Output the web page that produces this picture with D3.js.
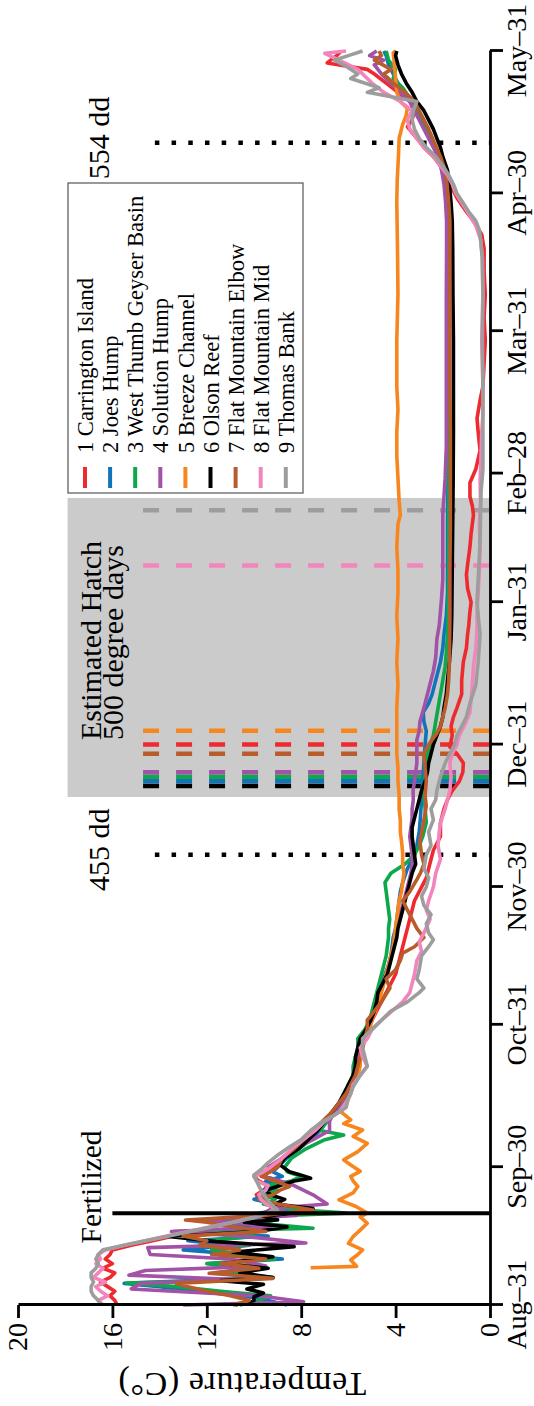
<!DOCTYPE html>
<html>
<head>
<meta charset="utf-8">
<script src="https://cdn.jsdelivr.net/npm/d3@7"></script>
<style>
  body { margin: 0; background: #fff; }
  svg { display: block; }
  text { font-family: "Liberation Serif", "Times New Roman", serif; fill: #000; }
</style>
</head>
<body>
<svg id="chart" width="534" height="1406"></svg>
<script>
// Daily water temperature at nine spawning sites, Aug 31 to May 31.
// Values are [day since Aug 31, temperature in °C].

const siteNames = [
  "1 Carrington Island", "2 Joes Hump", "3 West Thumb Geyser Basin",
  "4 Solution Hump", "5 Breeze Channel", "6 Olson Reef",
  "7 Flat Mountain Elbow", "8 Flat Mountain Mid", "9 Thomas Bank"
];
const siteColors = ["#ee2a2f", "#1174ba", "#0ca84b", "#a252a7", "#f7861f",
                    "#000000", "#b95c2b", "#f286bc", "#9d9d9d"];

const carringtonIsland = [[0,15.8],[1,15.9],[2,16.1],[3,15.9],[4,16.2],[5,16.5],[6,16.1],[7,15.9],[8,16.4],[9,16.0],[10,16.3],[11,16.1],[12,16.0],[13,15.2],[14,14.3],[15,13.4],[16,12.6],[17,11.8],[18,10.9],[19,10.1],[20,9.6],[21,9.2],[22,9.4],[23,9.8],[24,9.9],[25,9.6],[26,9.4],[27,9.8],[28,10.0],[29,9.6],[30,9.2],[32,8.7],[34,8.3],[36,7.8],[38,7.4],[40,7.0],[42,6.6],[44,6.3],[46,6.0],[48,5.9],[50,5.8],[52,5.7],[54,5.6],[56,5.5],[58,5.4],[60,5.2],[62,5.0],[64,4.8],[66,4.6],[68,4.4],[70,4.2],[72,4.0],[74,3.9],[76,3.8],[78,3.7],[80,3.6],[82,3.5],[84,3.4],[86,3.3],[88,3.2],[90,3.0],[93,2.7],[96,2.55],[99,2.4],[102,2.1],[105,2.1],[108,1.95],[110,1.8],[112,1.6],[114,1.3],[116,1.15],[118,1.13],[120,1.4],[121.5,1.7],[124,1.6],[126,1.65],[128,1.55],[130,1.4],[133,1.2],[136,1.2],[140,1.13],[143,1.0],[146,0.95],[148,0.9],[151,0.85],[153,0.8],[156,0.95],[159,1.0],[162,0.93],[165,0.85],[168,0.8],[172,0.7],[174,0.75],[176,0.85],[179,0.85],[182,0.6],[186,0.42],[190,0.5],[193,0.55],[197,0.42],[200,0.3],[205,0.25],[210,0.2],[215,0.25],[220,0.2],[225,0.25],[230,0.25],[233,0.35],[236,0.7],[238,1.0],[241,1.4],[243,1.6],[246,1.8],[248,2.1],[250,2.4],[252,2.8],[254,3.1],[256.5,3.5],[258,3.3],[260,3.2],[262,3.4],[264,3.9],[266,4.4],[268,4.9],[269,5.2],[270.4,6.9],[272,6.5],[273,6.3]];

const joesHump = [[0,8.6],[1,9.4],[2,10.5],[3,12.5],[4,14.0],[4.7,15.5],[6,9.2],[7,11.6],[8,10.1],[9,11.9],[10,8.8],[11,10.6],[12,13.0],[13,11.0],[14,12.8],[15,9.4],[16,12.4],[17,9.8],[18,11.5],[19,9.0],[20,9.8],[21,8.2],[22,9.1],[23,10.0],[24,9.3],[25,9.6],[26,8.9],[27,9.5],[28,8.8],[29,9.2],[30,9.0],[32,8.6],[34,8.1],[36,7.6],[38,7.2],[40,6.9],[42,6.6],[44,6.3],[46,6.1],[48,5.9],[50,5.8],[52,5.7],[54,5.6],[56,5.6],[58,5.5],[60,5.2],[62,5.0],[64,4.9],[66,4.8],[68,4.7],[70,4.6],[72,4.45],[74,4.3],[76,4.2],[78,4.15],[80,4.1],[82,4.0],[84,3.95],[86,3.9],[88,3.85],[90,3.8],[92,3.7],[95,3.5],[98,3.2],[100,3.1],[103,3.0],[106,2.95],[110,2.9],[114,2.85],[118,2.8],[122,2.75],[125,2.7],[127,2.8],[129,2.83],[131,2.6],[133,2.45],[135,2.35],[137,2.25],[140,2.1],[143,2.0],[146,1.95],[150,1.85],[155,1.8],[160,1.8],[170,1.8],[180,1.78],[190,1.78],[200,1.78],[210,1.8],[220,1.78],[230,1.76],[236,1.76],[240,1.8],[244,1.85],[247,1.95],[250,2.15],[253,2.4],[256,2.7],[259,3.0],[262,3.3],[265,3.8],[268,4.1],[270,4.3],[272,4.4],[273,4.5]];

const westThumbGeyserBasin = [[0,10.6],[1,9.8],[2,9.3],[3,11.4],[4,13.3],[4.8,15.4],[5.5,10.5],[6,9.2],[7,11.0],[8,10.2],[9,12.0],[10,9.1],[11,10.4],[12,11.8],[13,10.2],[14,12.0],[15,10.0],[16,13.4],[16.7,7.5],[17.5,9.2],[18.5,10.0],[19.5,8.7],[20,6.1],[21,8.8],[22,9.6],[23,9.1],[24,9.7],[25,9.0],[26,9.5],[27,8.4],[28,8.0],[29,8.6],[30,8.7],[32,8.4],[34,7.8],[36,7.0],[37,6.2],[38,7.2],[40,6.9],[42,6.5],[44,6.3],[46,6.1],[48,6.0],[50,5.8],[52,5.8],[54,5.7],[56,5.6],[58,5.6],[60,5.3],[62,5.1],[64,5.0],[66,4.9],[68,4.8],[70,4.7],[72,4.6],[74,4.5],[76,4.4],[78,4.35],[80,4.3],[82,4.3],[84,4.25],[86,4.3],[88,4.35],[90,4.4],[92,4.45],[94,4.2],[96,3.6],[98,3.2],[100,3.0],[102,2.85],[105,2.7],[108,2.75],[112,2.8],[115,2.75],[118,2.7],[121,2.6],[124,2.4],[127,2.3],[130,2.2],[133,2.1],[136,2.0],[139,1.9],[142,1.85],[146,1.8],[150,1.77],[160,1.75],[170,1.75],[180,1.74],[190,1.75],[200,1.75],[210,1.74],[220,1.75],[230,1.74],[236,1.75],[240,1.8],[244,1.86],[247,1.95],[250,2.15],[253,2.4],[256,2.7],[259,3.0],[262,3.3],[265,3.7],[267,4.1],[269,4.0],[271,4.3],[273,4.4]];

const solutionHump = [[0,13.0],[0.7,7.9],[2,9.8],[3.5,15.2],[4.7,14.8],[5.5,10.5],[6.5,15.3],[7.5,14.6],[8.5,9.5],[10,11.0],[11,14.4],[12.5,14.5],[13.5,7.8],[15,10.5],[16,13.5],[17,9.3],[18.5,12.0],[19.5,8.2],[21,9.3],[22,6.9],[24,7.5],[26,8.3],[28,9.5],[30,9.4],[32,8.8],[34,8.3],[36,7.5],[38,6.8],[40,6.8],[42,6.6],[44,6.3],[46,6.1],[48,5.9],[50,5.8],[52,5.7],[54,5.6],[56,5.6],[58,5.5],[60,5.2],[62,5.0],[64,4.9],[66,4.8],[68,4.7],[70,4.55],[72,4.4],[74,4.3],[76,4.2],[78,4.1],[80,4.0],[82,3.95],[84,3.85],[86,3.75],[88,3.65],[90,3.55],[92,3.45],[94,3.35],[96,3.3],[98,3.3],[100,3.35],[102,3.4],[104,3.35],[106,3.3],[108,3.3],[110,3.25],[112,3.26],[114,3.2],[116,3.15],[118,3.1],[120,3.1],[123,3.1],[125,3.0],[127,2.97],[130,2.8],[132,2.7],[134,2.6],[136,2.5],[138,2.4],[141,2.3],[145,2.25],[148,2.15],[151,2.1],[154,2.05],[158,2.0],[165,2.0],[172,2.0],[180,1.9],[187,1.85],[195,1.85],[201,1.85],[210,1.85],[220,1.85],[230,1.84],[236,1.84],[240,1.88],[244,1.95],[247,2.05],[250,2.2],[253,2.5],[256,2.8],[259,3.1],[262,3.4],[264,3.8],[266,4.2],[268,4.6],[270,4.9],[271,4.5],[272,5.1],[273,4.8]];

const breezeChannel = [[8.1,7.6],[8.4,5.65],[9.8,5.9],[11,5.6],[12,5.4],[13.4,6.0],[14.9,5.8],[16.3,5.5],[17.8,5.2],[19.2,5.5],[20,5.2],[21.5,5.7],[22.9,6.4],[24.4,5.8],[25.8,5.6],[27,5.8],[28,5.9],[29.1,5.5],[30.5,5.9],[31.6,6.2],[33.4,5.6],[35.2,5.2],[36.7,5.8],[38.1,5.4],[39.5,6.2],[40.3,5.9],[42,6.3],[44,6.1],[46,5.9],[48,5.8],[50,5.6],[52,5.5],[54,5.5],[56,5.4],[58,5.3],[60,5.1],[62,5.0],[64,4.85],[66,4.7],[68,4.6],[70,4.5],[72,4.4],[74,4.3],[76,4.2],[78,4.1],[80,4.05],[82,4.0],[84,3.95],[86,3.9],[88,3.85],[90,3.75],[92,3.7],[94,3.65],[96,3.7],[98.4,3.7],[101,3.75],[103,3.8],[105.6,3.8],[108,3.85],[111,3.85],[114,3.9],[117,3.9],[120,3.95],[125,3.95],[130,3.95],[135,3.9],[140,3.95],[145,3.9],[150,3.95],[155,3.9],[160,3.9],[165,3.95],[170,3.9],[172,3.8],[175,3.85],[180,3.9],[185,3.95],[190,3.95],[195,3.9],[200,3.95],[210,3.95],[220,3.9],[230,3.92],[240,3.95],[245,3.93],[250,3.88],[254,3.85],[257,3.7],[259,3.55],[260.5,3.5],[262,3.8],[264,3.95],[267,4.0],[270,4.05],[272.6,4.1],[273,4.0]];

const olsonReef = [[0,10.8],[1,10.0],[1.8,10.0],[2.6,9.6],[3.5,10.3],[4.5,9.6],[5.3,11.4],[6,9.2],[7,10.6],[8,9.4],[9,11.3],[10.5,9.2],[11.5,10.9],[12.7,8.3],[13.8,11.6],[14.9,13.6],[16,9.9],[17,8.6],[18,10.4],[18.5,9.0],[19.3,9.6],[20.2,8.1],[21,7.5],[22,9.1],[23,8.7],[24,9.3],[25,9.5],[26,8.9],[27,8.3],[27.6,7.6],[28.4,8.1],[29,8.5],[30.5,8.9],[32,8.7],[34,8.1],[36,7.7],[38,7.3],[40,7.0],[42,6.7],[44,6.4],[46,6.2],[48,6.0],[50,5.8],[52,5.7],[54,5.7],[56,5.6],[58,5.5],[60,5.25],[62,5.05],[64,4.9],[66,4.8],[68,4.75],[70,4.55],[72,4.35],[74,4.25],[76,4.15],[78,4.05],[80,3.95],[82,3.9],[84,3.8],[86,3.7],[88,3.6],[90,3.5],[92,3.4],[94,3.3],[96,3.15],[98,3.2],[100,3.25],[102,3.3],[104,3.3],[106,3.2],[108,3.1],[110,3.0],[112,2.9],[114,2.75],[116,2.65],[118,2.6],[120,2.5],[122,2.4],[124,2.25],[126,2.1],[128,2.0],[130,1.95],[133,1.85],[136,1.8],[140,1.72],[145,1.65],[150,1.62],[160,1.6],[170,1.58],[180,1.56],[190,1.55],[200,1.55],[210,1.55],[220,1.57],[230,1.58],[236,1.6],[240,1.65],[244,1.72],[247,1.8],[250,2.0],[252,2.1],[254,2.25],[256,2.4],[258,2.6],[260,2.8],[262,3.1],[264,3.3],[266,3.55],[268,3.75],[270,3.9],[272,4.0],[273,3.95]];

const flatMountainElbow = [[0,10.9],[1,10.2],[2,11.0],[3,12.0],[4,12.8],[4.7,13.3],[5.8,9.2],[6.9,11.9],[8,9.8],[9,11.4],[10,9.5],[11,11.8],[12,10.6],[13,12.3],[14,12.0],[15,13.0],[16,9.5],[17,10.8],[18,12.0],[18.5,12.9],[19.5,9.6],[20.7,7.5],[22,9.0],[23,9.8],[24,9.2],[25,8.9],[25.8,8.5],[27,9.1],[28,9.7],[29,9.3],[30,9.0],[32,8.8],[34,8.3],[36,7.9],[38,7.5],[40,7.1],[42,6.7],[44,6.4],[46,6.1],[48,5.9],[50,5.7],[52,5.6],[54,5.5],[56,5.4],[58,5.3],[60,5.2],[62,5.2],[64,4.9],[66,4.6],[69,4.24],[71,4.4],[73,4.0],[75,3.8],[76.6,3.7],[78,3.2],[80,2.8],[82,3.1],[85,3.4],[88,3.7],[90,3.4],[92.6,3.1],[94,2.95],[96,2.8],[98,2.9],[101,2.97],[104,2.85],[108.6,2.7],[111,2.75],[114,2.7],[117,2.75],[120,2.8],[122,2.6],[124.5,2.25],[126,2.1],[128,2.0],[130,1.9],[133,1.8],[136,1.75],[140,1.72],[150,1.7],[160,1.7],[170,1.68],[180,1.68],[190,1.68],[200,1.7],[210,1.7],[220,1.7],[230,1.7],[236,1.7],[240,1.75],[244,1.82],[247,1.9],[250,2.1],[253,2.35],[256,2.6],[259,2.9],[262,3.2],[264,3.6],[266,4.1],[268,4.5],[269,4.2],[271,4.9],[272,4.6],[273,4.7]];

const flatMountainMid = [[0,16.4],[1,16.6],[2,16.2],[3,16.5],[4,16.7],[5,16.3],[6,16.8],[7,16.6],[8,16.4],[9,16.7],[10,16.5],[11,16.6],[12,16.3],[13,15.5],[14,14.6],[15,13.7],[16,12.8],[17,11.9],[18,10.9],[19,10.1],[20,9.4],[21,9.1],[22,9.5],[23,9.7],[24,9.8],[25,9.5],[26,9.4],[27,9.9],[28,10.0],[29,9.6],[30,9.3],[32,8.8],[34,8.4],[36,7.9],[38,7.4],[40,7.0],[42,6.4],[44,6.1],[46,5.9],[48,5.8],[50,5.5],[52,5.2],[54,5.4],[56,5.5],[58,5.2],[60,5.0],[62,4.6],[63.6,4.24],[66,3.7],[68,3.4],[70,3.3],[72,3.2],[75,3.1],[77,2.9],[79,3.0],[81,2.8],[84,2.54],[86,2.7],[88,2.6],[91,2.4],[94,2.3],[97,2.1],[100,2.2],[103,2.15],[105,2.1],[108,1.9],[112,1.7],[115,1.65],[118,1.7],[120,1.6],[122,1.4],[124,1.3],[126,1.1],[129,0.85],[132,0.8],[135,0.75],[139,0.7],[143,0.6],[147,0.55],[151,0.55],[155,0.5],[160,0.45],[165,0.42],[170,0.45],[175,0.4],[179,0.42],[185,0.38],[190,0.35],[194,0.3],[200,0.3],[210,0.35],[220,0.3],[228,0.32],[232,0.4],[235,0.6],[238,0.95],[240,1.2],[242,1.45],[244,1.6],[246,1.8],[248,2.1],[250,2.4],[252,2.8],[254,3.1],[256,3.4],[258,3.5],[260,3.3],[262,3.8],[264,4.5],[266,5.0],[267,5.2],[269,5.6],[271,6.4],[272.5,7.0],[273,6.1]];

const thomasBank = [[0,16.5],[1,16.6],[2,16.8],[3,16.9],[4,16.9],[5,16.8],[6,16.9],[7,16.9],[8,16.7],[9,16.6],[10,16.7],[11,16.6],[12,16.4],[13,15.5],[14,14.6],[15,13.6],[16,12.7],[17,11.8],[18,10.9],[19,10.0],[20,9.5],[20.7,9.0],[22,9.3],[24,9.6],[26,9.8],[28.3,10.0],[29.5,9.7],[31,9.4],[33,8.9],[34.4,8.5],[36,8.0],[38,7.6],[39.6,7.2],[41,6.7],[43,6.1],[45,6.0],[47.5,5.8],[50,5.5],[52,5.2],[54,5.3],[56,5.4],[58,5.4],[60,5.0],[62,4.6],[64,4.2],[66,3.5],[68,3.0],[69,2.8],[71,3.1],[73,3.0],[76,2.9],[78,2.6],[79.5,2.4],[81,2.6],[83,2.7],[85,2.5],[87,2.8],[89,2.9],[91,2.7],[93,2.6],[95,2.8],[98,2.7],[100,2.5],[103,2.6],[105.6,2.4],[108,2.5],[110,2.3],[112,2.25],[115,2.1],[118,1.9],[120,1.7],[122,1.5],[124,1.4],[126,1.2],[128,1.0],[131,0.85],[135,0.6],[140,0.5],[146,0.42],[150,0.5],[153,0.55],[158,0.5],[163,0.45],[167,0.42],[172,0.4],[177,0.38],[182,0.3],[190,0.3],[200,0.3],[210,0.32],[220,0.3],[228,0.33],[232,0.4],[234,0.45],[236,0.6],[238,0.9],[240,1.15],[242,1.4],[244,1.55],[246,1.75],[248,2.0],[250,2.3],[252,2.7],[254,3.0],[256,3.2],[258,3.3],[260,3.25],[262,3.1],[264,5.2],[265,4.7],[267,5.9],[268,5.6],[270,6.2],[271,6.6],[272,6.0],[273,5.4]];

const siteSeries = [carringtonIsland, joesHump, westThumbGeyserBasin, solutionHump,
                    breezeChannel, olsonReef, flatMountainElbow, flatMountainMid, thomasBank];

// Estimated hatch day (500 degree days) for each site, days since Aug 31
const hatchDays = [122, 114, 115, 116, 125, 113, 120, 161, 173];
const hatchWindow = [110.6, 175.7];
const fertilizedDay = 20;
const degreeDayLabels = ["455 dd", "554 dd"];
const degreeDayDays = [98, 253];

const dateTickDays = [0, 30, 61, 91, 122, 153, 181, 212, 242, 273];
const dateTickLabels = ["Aug–31", "Sep–30", "Oct–31", "Nov–30", "Dec–31",
                        "Jan–31", "Feb–28", "Mar–31", "Apr–30", "May–31"];
const tempTicks = [0, 4, 8, 12, 16, 20];

// ---------------------------------------------------------------
const START = Date.UTC(2013, 7, 31);
const toDate = d => new Date(START + d * 864e5);

const W = 1406, H = 534;   // chart laid out landscape, then turned a quarter
const svg = d3.select("#chart");
const root = svg.append("g").attr("transform", `translate(0,${W}) rotate(-90)`);

const x = d3.scaleUtc().domain([toDate(0), toDate(273)]).range([101, 1355]);
const y = d3.scaleLinear().domain([0, 20]).range([490, 18]);

// hatch window shading
root.append("rect")
  .attr("x", x(toDate(hatchWindow[0])))
  .attr("width", x(toDate(hatchWindow[1])) - x(toDate(hatchWindow[0])))
  .attr("y", y(17.9))
  .attr("height", y(0) - y(17.9))
  .attr("fill", "#cbcbcb");

// per-site hatch dates
root.append("g").selectAll("line").data(hatchDays).join("line")
  .attr("x1", d => x(toDate(d))).attr("x2", d => x(toDate(d)))
  .attr("y1", y(14.7)).attr("y2", y(0))
  .attr("stroke", (d, i) => siteColors[i])
  .attr("stroke-width", 4.5)
  .attr("stroke-dasharray", "16 17");

// degree-day markers
root.append("g").selectAll("line").data(degreeDayDays).join("line")
  .attr("x1", d => x(toDate(d))).attr("x2", d => x(toDate(d)))
  .attr("y1", y(14.2)).attr("y2", y(0))
  .attr("stroke", "#000")
  .attr("stroke-width", 4.5)
  .attr("stroke-dasharray", "4.5 12.2");

// temperature series
const line = d3.line()
  .x(d => x(toDate(d[0])))
  .y(d => y(d[1]));

root.append("g").selectAll("path").data(siteSeries).join("path")
  .attr("d", line)
  .attr("fill", "none")
  .attr("stroke", (d, i) => siteColors[i])
  .attr("stroke-width", 3.6)
  .attr("stroke-linejoin", "round");

// fertilization date
root.append("line")
  .attr("x1", x(toDate(fertilizedDay))).attr("x2", x(toDate(fertilizedDay)))
  .attr("y1", y(16)).attr("y2", y(0))
  .attr("stroke", "#000").attr("stroke-width", 4);

// axes
const xAxis = d3.axisBottom(x)
  .tickValues(dateTickDays.map(toDate))
  .tickFormat((d, i) => dateTickLabels[i])
  .tickSize(13).tickPadding(3).tickSizeOuter(0);
const yAxis = d3.axisLeft(y)
  .tickValues(tempTicks)
  .tickFormat(d3.format("d"))
  .tickSize(13).tickPadding(5).tickSizeOuter(0);

const gx = root.append("g").attr("transform", `translate(0,${y(0)})`).call(xAxis);
const gy = root.append("g").attr("transform", `translate(${x(toDate(0))},0)`).call(yAxis);
[gx, gy].forEach(g => {
  g.selectAll("path, line").attr("stroke", "#000").attr("stroke-width", 2.8);
  g.selectAll("text").attr("font-family", "Liberation Serif").attr("font-size", 28).attr("fill", "#000");
});

// axis title
root.append("text")
  .attr("transform", `translate(33,242) rotate(-90)`)
  .attr("text-anchor", "middle")
  .attr("font-size", 34)
  .attr("letter-spacing", 0.6)
  .text("Temperature (C°)");

// annotations
root.append("text")
  .attr("x", 219).attr("y", y(16.5))
  .attr("text-anchor", "middle").attr("font-size", 29.5)
  .text("Fertilized");

root.append("g").selectAll("text").data(degreeDayDays).join("text")
  .attr("x", d => x(toDate(d)) + 5).attr("y", y(16.15))
  .attr("text-anchor", "middle").attr("font-size", 30)
  .text((d, i) => degreeDayLabels[i]);

const hatchLabel = root.append("text").attr("font-size", 30);
hatchLabel.append("tspan").attr("x", 666).attr("y", y(16.5)).text("Estimated Hatch");
hatchLabel.append("tspan").attr("x", 666).attr("y", y(15.55)).text("500 degree days");

// legend
const legend = root.append("g");
legend.append("rect")
  .attr("x", 913).attr("y", 68).attr("width", 310).attr("height", 235)
  .attr("fill", "#fff").attr("stroke", "#555").attr("stroke-width", 1.2);
const rows = legend.selectAll("g.row").data(siteNames).join("g")
  .attr("class", "row")
  .attr("transform", (d, i) => `translate(0,${85 + i * 25.1})`);
rows.append("line")
  .attr("x1", 918).attr("x2", 939)
  .attr("stroke", (d, i) => siteColors[i])
  .attr("stroke-width", 4);
rows.append("text")
  .attr("x", 953).attr("dy", "0.36em")
  .attr("font-size", 22.5)
  .text(d => d);
</script>
</body>
</html>
